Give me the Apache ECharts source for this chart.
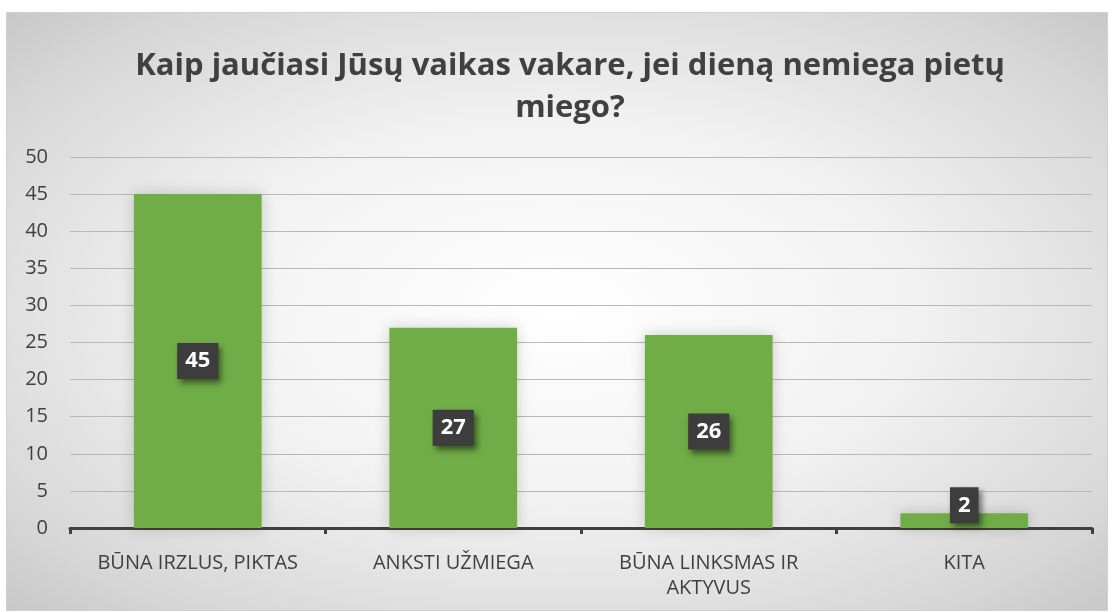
<!DOCTYPE html>
<html>
<head>
<meta charset="utf-8">
<script src="https://cdn.jsdelivr.net/npm/echarts@6/dist/echarts.min.js"></script>
<style>
  html, body { margin: 0; padding: 0; background: #fff; }
  #box {
    position: absolute; left: 6px; top: 12px; width: 1100px; height: 597px;
    border: 1px solid #d0d0d0;
    background: radial-gradient(ellipse at center, #ffffff 0%, #f2f2f2 45%, #d6d6d6 85%, #c8c8c8 100%);
  }
  #chart { width: 1100px; height: 597px; }
</style>
</head>
<body>
<div id="box"><div id="chart"></div></div>
<script>
// kategorijos ir reikšmės
const categories = ['BŪNA IRZLUS, PIKTAS', 'ANKSTI UŽMIEGA', 'BŪNA LINKSMAS IR\nAKTYVUS', 'KITA']
const values = [45, 27, 26, 2]
const yTicks = [0, 50, 5] // min, max, žingsnis

const myChart = echarts.init(document.getElementById('chart'))

const options = {
    title: {
        text: 'Kaip jaučiasi Jūsų vaikas vakare, jei dieną nemiega pietų\nmiego?',
        left: 558,
        textAlign: 'center',
        top: 27,
        textStyle: {
            fontFamily: 'Open Sans',
            fontSize: 31,
            fontWeight: 'bold',
            color: '#404040',
            lineHeight: 42
        }
    },
    grid: {
        left: 63,
        right: 15,
        top: 144,
        bottom: 82
    },
    xAxis: {
        type: 'category',
        data: categories,
        axisLine: { lineStyle: { color: '#404040', width: 3 } },
        axisTick: { show: true, interval: 0, length: 6, lineStyle: { color: '#404040', width: 3 } },
        axisLabel: {
            interval: 0,
            fontFamily: 'Open Sans',
            fontSize: 20,
            color: '#404040',
            margin: 23,
            lineHeight: 25
        }
    },
    yAxis: {
        type: 'value',
        min: yTicks[0],
        max: yTicks[1],
        interval: yTicks[2],
        axisLine: { show: false },
        axisTick: { show: false },
        axisLabel: {
            fontFamily: 'Open Sans',
            fontSize: 20,
            color: '#404040',
            margin: 22
        },
        splitLine: { lineStyle: { color: '#b8b8b8', width: 1 } }
    },
    series: [{
        type: 'bar',
        barWidth: '50%',
        data: values.map((v, i) => ({
            value: v,
            label: i === values.length - 1 ? { position: 'top', distance: -10 } : {}
        })),
        itemStyle: {
            color: '#70AD47',
            shadowColor: 'rgba(0,0,0,0.18)',
            shadowBlur: 14
        },
        label: {
            show: true,
            position: 'inside',
            fontFamily: 'Open Sans',
            fontSize: 22,
            fontWeight: 'bold',
            color: '#ffffff',
            backgroundColor: '#3d3d3d',
            padding: [8, 8, 6, 8],
            shadowColor: 'rgba(0,0,0,0.5)',
            shadowBlur: 6,
            shadowOffsetX: 3,
            shadowOffsetY: 4
        }
    }]
}

myChart.setOption(options)
</script>
</body>
</html>
